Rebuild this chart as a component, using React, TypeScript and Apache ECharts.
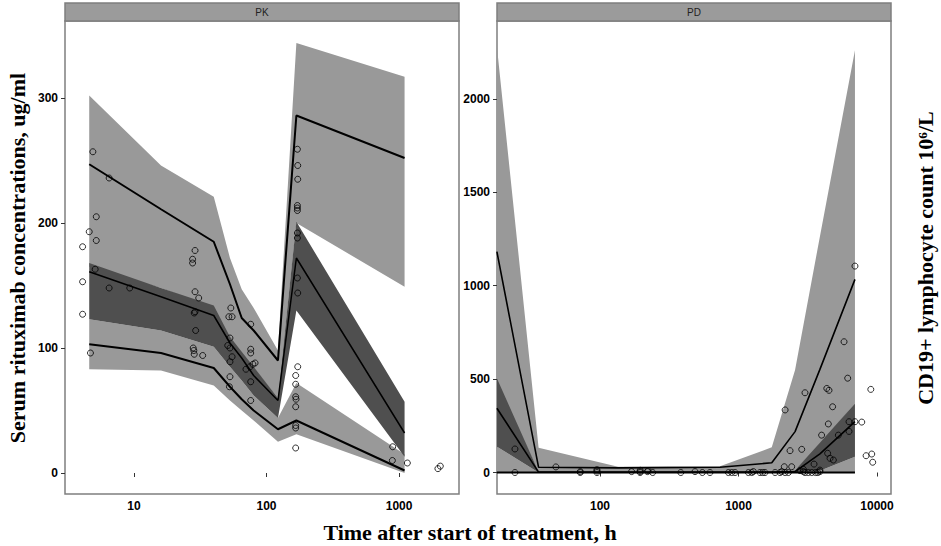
import React, { useEffect, useRef } from "react";
import * as echarts from "echarts";

// ---------- PK panel (time h, concentration ug/ml) ----------
const pkBinTime = [4.6, 16, 40, 53, 65, 80, 122, 168, 1100];
const pkUpperHi = [302, 246, 221, 172, 147, 132, 98, 344, 317];
const pkUpperMed = [247, 211, 185, 151, 124, 114, 90, 286, 252];
const pkUpperLo = [165, 148, 132, 108, 96, 84, 60, 200, 149];
const pkMidHi = [168, 148, 134, 109, 97, 85, 60, 201, 57];
const pkMidMed = [161, 141, 126, 104, 92, 78, 58, 172, 32];
const pkMidLo = [123, 114, 101, 85, 74, 62, 44, 130, 13];
const pkLowHi = [123, 114, 101, 85, 74, 62, 44, 72, 15];
const pkLowMed = [103, 96, 84, 69, 59, 50, 35, 42, 2];
const pkLowLo = [83, 82, 70, 58, 50, 42, 25, 31, 0];

const pkObsTime = [
  4.9, 6.5, 5.2, 4.6, 5.2, 4.1, 5.1, 4.1, 6.5, 9.3, 4.1, 4.7,
  28.9, 27.7, 27.7, 28.9, 30.8, 28.5, 28.9, 29.2, 28, 28.3, 28.5, 33,
  53.8, 52, 55, 53, 51, 53, 55, 53, 53, 52.5,
  76, 76, 76, 82, 79, 70, 75, 76, 76,
  171, 172, 172, 171, 171, 171, 171, 171, 171, 172, 172, 166, 166, 166, 167, 166, 166, 166, 166,
  895, 890, 1155, 1963, 2047,
];
const pkObsConc = [
  257, 236, 205, 193, 186, 181, 163, 153, 148, 148, 127, 96,
  178, 171, 168, 145, 140, 128, 129, 114, 100, 98, 95, 94,
  132, 125, 125, 108, 102, 100, 93, 89, 77, 69,
  119, 99, 96, 88, 87, 83, 85, 73, 58,
  259, 246, 235, 214, 212, 210, 192, 188, 156, 144, 85, 78, 71, 61, 59, 53, 38, 36, 20,
  21, 10, 8, 3.5, 5.5,
];

// ---------- PD panel (time h, CD19+ count) ----------
const pdBinTime = [18, 36, 135, 735, 1738, 2560, 3870, 6930];
const pdUpperHi = [2280, 133, 31, 33, 135, 549, 1264, 2260];
const pdUpperMed = [1182, 28, 25, 28, 52, 219, 552, 1034];
const pdUpperLo = [480, 4, 3, 3, 4, 12, 150, 370];
const pdMidHi = [504, 4, 3, 3, 4, 12, 160, 370];
const pdMidMed = [344, 2, 2, 2, 2, 5, 100, 272];
const pdMidLo = [138, 0, 0, 0, 0, 0, 10, 85];
const pdLowHi = [138, 0, 0, 0, 0, 0, 10, 85];
const pdLowMed = [0, 0, 0, 0, 0, 0, 0, 0];
const pdLowLo = [0, 0, 0, 0, 0, 0, 0, 0];

const pdObsTime = [
  18, 18, 18, 18, 18, 18, 18, 18, 18, 18,
  24.3, 24.3, 48, 72, 72, 95, 95, 95, 169, 195, 195, 195, 220, 222, 240, 383, 485, 548, 622,
  845, 893, 944, 1178, 1245, 1280, 1430, 1495, 1553, 1837, 1995, 2051, 2168, 2291,
  2170, 2355, 2140, 2420, 2860, 3020, 2780, 2940, 2940, 3020, 3190, 3380, 3510, 3600, 3740,
  3870, 3870, 3980, 4340, 4500, 4450, 4780, 4400, 4580, 4840, 5260, 5780, 6140, 6280, 6280,
  6930, 6930, 7760, 9020, 8340, 9160, 9310,
];
const pdObsCount = [
  700, 585, 565, 540, 500, 345, 330, 300, 280, 260,
  126, 0, 30, 0, 5, 0, 8, 15, 5, 0, 5, 12, 5, 10, 0, 0, 5, 0, 0,
  0, 0, 0, 0, 0, 5, 0, 0, 0, 0, 0, 5, 0, 0,
  335, 117, 31, 31, 124, 427, 10, 5, 17, 0, 0, 0, 45, 0, 0,
  5, 13, 200, 450, 440, 260, 352, 103, 76, 67, 200, 700, 505, 272, 220,
  1105, 272, 270, 445, 90, 99, 55,
];

const pkXTicks = [10, 100, 1000];
const pdXTicks = [100, 1000, 10000];
const pkYTicks = [0, 100, 200, 300];
const pdYTicks = [0, 500, 1000, 1500, 2000];

const LIGHT = "#999999";
const DARK = "#4f4f4f";
const FRAME = "#7f7f7f";

const lg = (t: number) => Math.log10(t);

function band(times: number[], lo: number[], hi: number[], color: string, idx: number) {
  const data = times.map((t, i) => [lg(t), lo[i], hi[i]]);
  return {
    type: "custom",
    xAxisIndex: idx,
    yAxisIndex: idx,
    clip: true,
    silent: true,
    data,
    encode: { x: 0, y: [1, 2] },
    renderItem: (params: any, api: any) => {
      if (params.dataIndex !== 0) return null;
      const up = data.map((d) => api.coord([d[0], d[2]]));
      const dn = data.map((d) => api.coord([d[0], d[1]])).reverse();
      return {
        type: "polygon",
        shape: { points: up.concat(dn) },
        style: { fill: color, stroke: null },
      };
    },
  };
}

function line(times: number[], vals: number[], width: number, idx: number) {
  return {
    type: "line",
    xAxisIndex: idx,
    yAxisIndex: idx,
    silent: true,
    symbol: "none",
    showSymbol: false,
    data: times.map((t, i) => [lg(t), vals[i]]),
    lineStyle: { color: "#000", width },
    z: 3,
  };
}

function points(times: number[], vals: number[], idx: number) {
  return {
    type: "scatter",
    xAxisIndex: idx,
    yAxisIndex: idx,
    silent: true,
    symbol: "circle",
    symbolSize: 6,
    data: times.map((t, i) => [lg(t), vals[i]]),
    itemStyle: { color: "rgba(0,0,0,0)", borderColor: "#000", borderWidth: 1 },
    z: 4,
  };
}

const tickLabel = {
  color: "#000",
  fontWeight: "bold" as const,
  fontSize: 12,
  fontFamily: "Liberation Sans, Arial, sans-serif",
};

function xAxis(idx: number, min: number, max: number, ticks: number[]) {
  const vals = ticks.map(lg);
  return {
    type: "value",
    gridIndex: idx,
    min,
    max,
    axisLine: { show: false },
    splitLine: { show: false },
    axisTick: { show: true, customValues: vals, length: 4, lineStyle: { color: "#333", width: 1 } },
    axisLabel: {
      ...tickLabel,
      customValues: vals,
      margin: 6,
      formatter: (v: number) => String(Math.round(Math.pow(10, v))),
    },
  };
}

function yAxis(idx: number, min: number, max: number, ticks: number[]) {
  return {
    type: "value",
    gridIndex: idx,
    min,
    max,
    axisLine: { show: false },
    splitLine: { show: false },
    axisTick: { show: true, customValues: ticks, length: 4, lineStyle: { color: "#333", width: 1 } },
    axisLabel: { ...tickLabel, customValues: ticks, margin: 7, formatter: (v: number) => String(v) },
  };
}

export default function App() {
  const ref = useRef<HTMLDivElement>(null);
  useEffect(() => {
    if (!ref.current) return;
    const chart = echarts.init(ref.current, undefined, { renderer: "svg" });
    const gridTop = 21;
    const gridH = 473;
    const panels = [
      { left: 65, label: "PK" },
      { left: 497, label: "PD" },
    ];
    const titleStyle = {
      align: "center",
      verticalAlign: "middle",
      fontSize: 22,
      fontWeight: "bold",
      fontFamily: "Liberation Serif, Times New Roman, serif",
      fill: "#000",
    };
    const option: any = {
      animation: false,
      backgroundColor: "#fff",
      grid: panels.map((p) => ({
        left: p.left,
        top: gridTop,
        width: 394,
        height: gridH,
        show: true,
        backgroundColor: "#fff",
        borderColor: FRAME,
        borderWidth: 1.5,
      })),
      xAxis: [xAxis(0, 0.48, 3.452, pkXTicks), xAxis(1, 1.256, 4.101, pdXTicks)],
      yAxis: [yAxis(0, -16.8, 361.6, pkYTicks), yAxis(1, -115, 2417, pdYTicks)],
      series: [
        band(pkBinTime, pkUpperLo, pkUpperHi, LIGHT, 0),
        band(pkBinTime, pkLowLo, pkLowHi, LIGHT, 0),
        band(pkBinTime, pkMidLo, pkMidHi, DARK, 0),
        line(pkBinTime, pkUpperMed, 2, 0),
        line(pkBinTime, pkMidMed, 1.5, 0),
        line(pkBinTime, pkLowMed, 2, 0),
        points(pkObsTime, pkObsConc, 0),
        band(pdBinTime, pdUpperLo, pdUpperHi, LIGHT, 1),
        band(pdBinTime, pdLowLo, pdLowHi, LIGHT, 1),
        band(pdBinTime, pdMidLo, pdMidHi, DARK, 1),
        line(pdBinTime, pdUpperMed, 1.6, 1),
        line(pdBinTime, pdMidMed, 1.6, 1),
        line(pdBinTime, pdLowMed, 2, 1),
        points(pdObsTime, pdObsCount, 1),
      ],
      graphic: [
        ...panels.flatMap((p) => [
          {
            type: "rect",
            shape: { x: p.left, y: 3, width: 394, height: 18 },
            style: { fill: "#9b9b9b", stroke: FRAME, lineWidth: 1.5 },
            z: 10,
          },
          {
            type: "text",
            x: p.left + 197,
            y: 12,
            style: {
              text: p.label,
              align: "center",
              verticalAlign: "middle",
              fontSize: 10,
              fontFamily: "Liberation Sans, Arial, sans-serif",
              fill: "#222",
            },
            z: 11,
          },
        ]),
        {
          type: "text",
          x: 17,
          y: 258,
          rotation: Math.PI / 2,
          style: { ...titleStyle, text: "Serum rituximab concentrations, ug/ml" },
        },
        {
          type: "text",
          x: 925,
          y: 258,
          rotation: Math.PI / 2,
          style: { ...titleStyle, text: "CD19+ lymphocyte count 10⁶/L" },
        },
        {
          type: "text",
          x: 470,
          y: 532,
          style: { ...titleStyle, text: "Time after start of treatment, h" },
        },
      ],
    };
    chart.setOption(option);
    return () => chart.dispose();
  }, []);
  return (
    <div
      ref={ref}
      style={{ position: "fixed", left: 0, top: 0, width: 941, height: 546, background: "#fff" }}
    />
  );
}
